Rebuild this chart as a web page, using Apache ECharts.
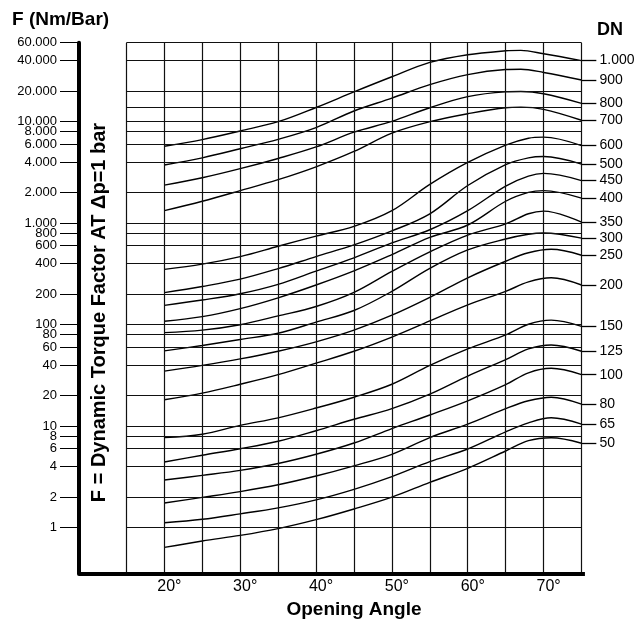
<!DOCTYPE html>
<html><head><meta charset="utf-8">
<script src="https://cdn.jsdelivr.net/npm/echarts@6/dist/echarts.min.js"></script>
<style>html,body{margin:0;padding:0;background:#fff}#c{width:635px;height:623px}</style>
</head><body><div id="c"></div>
<script>
// Opening angles (degrees) at which the curves were read
const anglesSmall = [20,25,30,35,40,45,50,55,60,65,68,71,75];
const anglesMid   = [20,25,30,35,40,45,50,55,60,65,68,70,75];
const anglesLarge = [20,25,30,35,40,45,50,55,60,65,67,70,75];

// F values (Nm/bar) per valve size DN
const dn50   = [0.64,0.74,0.84,0.98,1.2,1.53,2.0,2.8,3.85,5.7,7.2,7.7,6.8];
const dn65   = [1.12,1.21,1.37,1.57,1.88,2.39,3.19,4.47,5.96,8.8,10.8,12.1,10.5];
const dn80   = [1.75,1.99,2.27,2.65,3.23,4.07,5.29,7.72,10.5,14.9,17.8,19.3,16.5];
const dn100  = [2.95,3.28,3.67,4.29,5.29,6.83,9.48,12.9,17.8,25.7,33.6,37.2,32.2];
const dn125  = [4.44,5.18,6.0,7.11,9.03,11.7,14.9,20.7,31.2,45.3,57.7,63.2,54.8];
const dn150  = [7.72,8.33,10.2,12.1,15.1,19.3,25.9,39.7,57.7,79.3,101,111,96.4];
const dn200  = [18.2,21.2,25.9,32.2,41.8,54.8,75.6,109,157,213,264,290,246];
const dn250  = [34.9,39.7,46.0,54.8,67.8,88.4,124,186,290,422,511,553,483];
const dn300  = [55.2,62.4,71.5,82.3,106,138,213,359,545,699,778,800,712];
const dn350  = [83.5,88.4,100,122,151,208,335,522,764,986,1238,1315,1025];
const dn400  = [108,120,144,184,246,339,490,724,960,1645,2010,2092,1766];
const dn450  = [155,175,202,250,337,456,639,862,1329,2323,2908,3094,2631];
const dn500  = [207,238,281,357,469,611,839,1238,2352,3778,4406,4544,3825];
const dn600  = [351,395,469,593,747,931,1329,2411,3971,5875,6876,7050,5814];
const dn700  = [1329,1645,2092,2684,3593,5087,7716,10000,11980,13730,13900,13230,10330];
const dn800  = [2369,2801,3444,4342,5638,7881,10070,13730,17670,19660,19810,18850,15160];
const dn900  = [3749,4406,5412,6704,8746,12750,17070,23170,29090,32640,32890,30560,25740];
const dn1000 = [5720,6662,8105,10000,13800,19660,27700,38370,45670,49920,50470,46690,40000];

const dnLabels = ['50','65','80','100','125','150','200','250','300','350','400','450','500','600','700','800','900','1.000'];

// Axis ticks / grid
const yTickValues = [1,2,4,6,8,10,20,40,60,80,100,200,400,600,800,1000,2000,4000,6000,8000,10000,20000,40000,60000];
const yExtraGrid = [14000];
const xLabelValues = [20,30,40,50,60,70];
const xGridValues = [15,20,25,30,35,40,45,50,55,60,65,70,75];

const curves = [
  [anglesSmall, dn50], [anglesSmall, dn65], [anglesSmall, dn80], [anglesSmall, dn100],
  [anglesSmall, dn125], [anglesSmall, dn150], [anglesSmall, dn200], [anglesSmall, dn250],
  [anglesMid, dn300], [anglesMid, dn350], [anglesMid, dn400], [anglesMid, dn450],
  [anglesMid, dn500], [anglesMid, dn600],
  [anglesLarge, dn700], [anglesLarge, dn800], [anglesLarge, dn900], [anglesLarge, dn1000]
];

const X_MIN = 8.75, X_MAX = 77, GRID_X0 = 15, GRID_X1 = 75, LEADER_X = 76.95;
const Y_MIN = 0.35, Y_MAX = 60000;
const yLo = Y_MIN * 1.001, yHi = Y_MAX * 0.9995;
const FONT = '"Liberation Sans", Arial, Helvetica, sans-serif';

function fmtY(v) {
  if (v >= 1000) return (v / 1000) + '.000';
  return String(v);
}

const gridLines = [];
yTickValues.concat(yExtraGrid).forEach(v => {
  const vv = Math.min(v, yHi);
  gridLines.push([{coord: [GRID_X0, vv]}, {coord: [GRID_X1, vv]}]);
});
xGridValues.forEach(x => {
  gridLines.push([{coord: [x, yLo]}, {coord: [x, yHi]}]);
});

const series = [{
  type: 'line', data: [], silent: true, clip: false,
  markLine: {
    silent: true, symbol: 'none', animation: false,
    label: {show: false},
    lineStyle: {color: '#111', width: 1.2, type: 'solid'},
    emphasis: {disabled: true},
    data: gridLines.concat([
      [{coord: [X_MIN, yLo], lineStyle: {width: 4, color: '#000'}},
       {coord: [75.45, yLo]}]
    ])
  }
}];

curves.forEach((c, i) => {
  const angles = c[0], vals = c[1];
  const name = dnLabels[i];
  const last = vals[vals.length - 1];
  series.push({
    type: 'line', name: name,
    data: angles.map((a, k) => [a, vals[k]]),
    smooth: 0.35, symbol: 'none', silent: true, clip: false,
    lineStyle: {color: '#000', width: 1.4},
    endLabel: {
      show: true, formatter: () => name, distance: 18,
      color: '#000', fontSize: 14, fontFamily: FONT
    },
    markLine: {
      silent: true, symbol: 'none', animation: false,
      label: {show: false},
      lineStyle: {color: '#000', width: 1.3, type: 'solid'},
      data: [[{coord: [GRID_X1, last]}, {coord: [LEADER_X, last]}]]
    }
  });
});

const chart = echarts.init(document.getElementById('c'), null, {renderer: 'canvas'});
chart.setOption({
  animation: false,
  backgroundColor: '#fff',
  grid: {left: 79, right: 38.3, top: 42.7, bottom: 49, containLabel: false},
  xAxis: {
    type: 'value', min: X_MIN, max: X_MAX,
    axisLine: {show: false},
    axisTick: {show: false},
    splitLine: {show: false},
    axisLabel: {
      customValues: xLabelValues,
      formatter: v => v + '°',
      margin: 5, fontSize: 16, color: '#000', fontFamily: FONT,
      padding: [0, 0, 0, 10]
    }
  },
  yAxis: {
    type: 'log', logBase: 10, min: Y_MIN, max: Y_MAX,
    axisLine: {show: true, lineStyle: {color: '#000', width: 4}},
    axisTick: {show: true, customValues: yTickValues, length: 19, lineStyle: {color: '#000', width: 1}},
    splitLine: {show: false},
    minorTick: {show: false},
    axisLabel: {
      customValues: yTickValues, formatter: fmtY,
      margin: 22, fontSize: 13, color: '#000', fontFamily: FONT
    }
  },
  graphic: [
    {type: 'text', x: 12, y: 19.5, silent: true,
     style: {text: 'F (Nm/Bar)', fontSize: 19, fontWeight: 'bold', fontFamily: FONT, fill: '#000', align: 'left', verticalAlign: 'middle'}},
    {type: 'text', x: 610, y: 30.5, silent: true,
     style: {text: 'DN', fontSize: 18, fontWeight: 'bold', fontFamily: FONT, fill: '#000', align: 'center', verticalAlign: 'middle'}},
    {type: 'text', x: 354, y: 609.5, silent: true,
     style: {text: 'Opening Angle', fontSize: 19, fontWeight: 'bold', fontFamily: FONT, fill: '#000', align: 'center', verticalAlign: 'middle'}},
    {type: 'text', x: 99, y: 312.5, rotation: Math.PI / 2, silent: true,
     style: {text: 'F = Dynamic Torque Factor AT \u0394p=1 bar', fontSize: 20, fontWeight: 'bold', fontFamily: FONT, fill: '#000', align: 'center', verticalAlign: 'middle'}}
  ],
  series: series
});
</script>
</body></html>
